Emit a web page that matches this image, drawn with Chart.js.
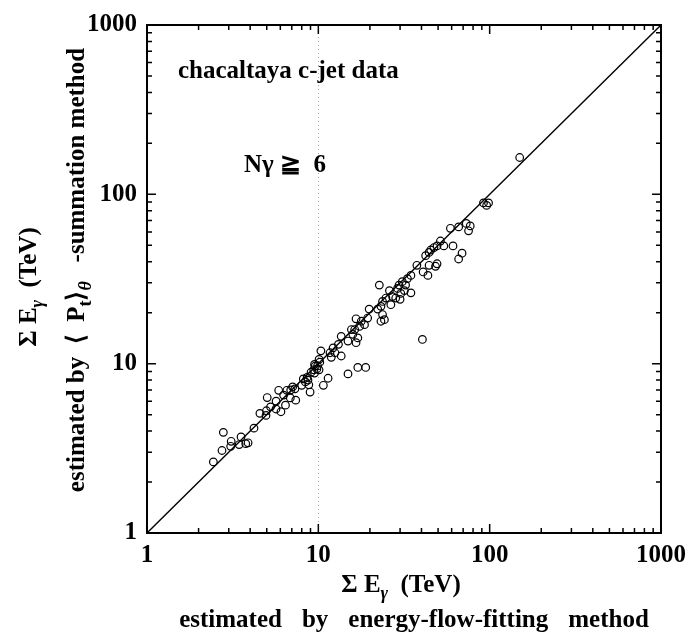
<!DOCTYPE html>
<html>
<head>
<meta charset="utf-8">
<script src="https://cdn.jsdelivr.net/npm/chart.js@4.4.0/dist/chart.umd.min.js"></script>
<style>
  html, body { margin: 0; padding: 0; background: #fff; }
  canvas { display: block; }
</style>
</head>
<body>
<canvas id="jetChart" width="694" height="634"></canvas>
<script>
// sum of gamma energies (TeV): energy-flow fit vs <pt> summation
var flowFitE = [
    2.44, 2.74, 2.79, 3.10, 3.08, 3.45, 3.54, 3.77, 3.89, 4.21, 4.56, 4.95, 4.98, 5.03,
    5.26, 5.67, 5.87, 6.27, 6.43, 6.05, 6.55, 6.86, 6.90, 7.08, 7.30, 7.38, 8.00, 8.17,
    8.40, 8.60, 8.80, 8.95, 9.07, 9.40, 9.50, 9.60, 9.80, 9.90, 10.1, 10.2, 10.35, 10.7,
    11.4, 14.9, 5.66, 8.70, 9.50, 10.1,
    11.7, 12.5, 11.9, 12.2, 13.1, 13.6, 13.6, 14.9, 16.6, 17.0, 15.9, 15.6, 16.3, 17.4,
    18.6, 16.6, 17.8, 19.4, 23.2, 24.3, 23.7, 19.8, 22.2, 23.2, 26.5, 23.7, 24.8, 28.3,
    27.1, 31.8, 30.3, 29.0, 26.0, 22.7, 17.0, 18.9,
    30.0, 34.7, 29.6, 32.3, 30.9, 33.1, 34.7, 43.6, 40.9, 37.6, 48.3, 49.3, 44.3, 65.9,
    69.0, 42.3, 44.3, 45.3, 47.3, 61.1, 54.0, 49.3, 51.6, 77.0, 75.3, 65.9, 59.0,
    73.0, 96.0, 98.5, 92.0, 149.7, 40.5
];
var ptSumE = [
    2.63, 3.07, 3.93, 3.48, 3.25, 3.33, 3.69, 3.37, 3.41, 4.16, 5.09, 4.95, 5.27, 6.31,
    5.56, 6.00, 6.96, 6.52, 5.69, 5.20, 6.96, 6.28, 7.00, 7.29, 7.10, 6.09, 7.45, 8.13,
    7.80, 8.30, 7.50, 6.80, 8.90, 9.20, 9.90, 9.70, 9.30, 9.70, 10.6, 10.2, 11.9, 7.45,
    8.2, 8.7, 5.40, 8.00, 8.80, 9.20,
    11.6, 11.6, 10.9, 12.4, 13.0, 11.1, 14.5, 13.6, 13.3, 14.2, 14.9, 15.9, 15.9, 16.6,
    17.0, 18.4, 17.8, 18.6, 17.8, 18.2, 19.5, 21.0, 21.0, 21.8, 22.3, 23.3, 24.4, 24.4,
    24.9, 27.0, 26.0, 27.8, 27.0, 29.1, 9.5, 9.5,
    24.0, 26.2, 29.1, 29.1, 30.5, 31.8, 33.2, 33.2, 34.8, 38.1, 37.6, 38.9, 38.1, 41.5,
    44.9, 43.4, 45.4, 46.9, 48.5, 49.6, 49.6, 49.6, 53.0, 65.1, 60.9, 64.2, 63.0,
    67.3, 86.0, 89.0, 89.0, 165, 13.9
];
// y = x reference line
var diagX = [1, 1000];
var diagY = [1, 1000];
var decadeTicks = [1, 10, 100, 1000];

var serif = '"Liberation Serif", "Times New Roman", serif';
var textSize = 25;

var points = flowFitE.map(function (x, i) { return { x: x, y: ptSumE[i] }; });
var diag = diagX.map(function (x, i) { return { x: x, y: diagY[i] }; });

// draws a line of text made of normal and subscript pieces, centred on cx
function richText(ctx, parts, cx, cy, size) {
    var fonts = parts.map(function (p) {
        var sz = p.sub ? Math.round(size * 0.72) : size;
        return (p.italic ? 'italic ' : '') + 'bold ' + sz + 'px ' + serif;
    });
    var total = 0;
    var widths = parts.map(function (p, i) {
        ctx.font = fonts[i];
        var w = ctx.measureText(p.t).width;
        total += w;
        return w;
    });
    var x = cx - total / 2;
    ctx.textAlign = 'left';
    ctx.textBaseline = 'alphabetic';
    parts.forEach(function (p, i) {
        ctx.font = fonts[i];
        ctx.fillText(p.t, x, cy + (p.sub ? size * 0.28 : 0));
        x += widths[i];
    });
}

// words set with a wide fixed gap between them
function spacedText(ctx, words, gap, cx, cy) {
    var widths = words.map(function (w) { return ctx.measureText(w).width; });
    var total = widths.reduce(function (s, w) { return s + w; }, 0) + gap * (words.length - 1);
    var x = cx - total / 2;
    ctx.textAlign = 'left';
    words.forEach(function (w, i) {
        ctx.fillText(w, x, cy);
        x += widths[i] + gap;
    });
}

var framePlugin = {
    id: 'frame',
    beforeDatasetsDraw: function (chart) {
        var ctx = chart.ctx;
        var a = chart.chartArea;
        var xs = chart.scales.x;
        // faint dotted guide at 10 TeV
        ctx.save();
        ctx.strokeStyle = '#aaa';
        ctx.lineWidth = 1;
        ctx.setLineDash([1, 3]);
        var px = Math.round(xs.getPixelForValue(10)) + 0.5;
        ctx.beginPath();
        ctx.moveTo(px, a.top);
        ctx.lineTo(px, a.bottom);
        ctx.stroke();
        ctx.restore();
    },
    afterDraw: function (chart) {
        var ctx = chart.ctx;
        var a = chart.chartArea;
        var xs = chart.scales.x;
        var ys = chart.scales.y;
        ctx.save();
        ctx.strokeStyle = '#000';
        ctx.lineWidth = 2;
        ctx.strokeRect(a.left, a.top, a.right - a.left, a.bottom - a.top);

        // inward ticks on all four sides
        ctx.lineWidth = 1.5;
        ctx.beginPath();
        [1, 10, 100].forEach(function (d) {
            for (var m = 1; m <= 9; m++) {
                var v = d * m;
                var len = m === 1 ? 9 : 5;
                var x = xs.getPixelForValue(v);
                var y = ys.getPixelForValue(v);
                ctx.moveTo(x, a.bottom); ctx.lineTo(x, a.bottom - len);
                ctx.moveTo(x, a.top); ctx.lineTo(x, a.top + len);
                ctx.moveTo(a.left, y); ctx.lineTo(a.left + len, y);
                ctx.moveTo(a.right, y); ctx.lineTo(a.right - len, y);
            }
        });
        ctx.stroke();

        ctx.fillStyle = '#000';
        ctx.textAlign = 'left';
        ctx.textBaseline = 'alphabetic';
        ctx.font = 'bold ' + textSize + 'px ' + serif;
        ctx.fillText('chacaltaya c-jet data', 178, 78);
        ctx.fillText('N\u03b3 \u2267  6', 244, 172);

        // x axis title
        richText(ctx, [
            { t: '\u03a3 E' }, { t: '\u03b3', sub: true, italic: true }, { t: '  (TeV)' }
        ], 401, 592, textSize);
        ctx.font = 'bold ' + textSize + 'px ' + serif;
        spacedText(ctx, ['estimated', 'by', 'energy-flow-fitting', 'method'], 20, 414, 627);

        // y axis title, rotated
        ctx.save();
        ctx.translate(36, 287);
        ctx.rotate(-Math.PI / 2);
        richText(ctx, [
            { t: '\u03a3 E' }, { t: '\u03b3', sub: true, italic: true }, { t: '  (TeV)' }
        ], 0, 0, textSize);
        ctx.restore();
        ctx.save();
        ctx.translate(84, 270);
        ctx.rotate(-Math.PI / 2);
        richText(ctx, [
            { t: 'estimated by  \u27e8  P' }, { t: 't', sub: true }, { t: '\u27e9' },
            { t: '\u03b8', sub: true, italic: true }, { t: '   -summation method' }
        ], 0, 0, textSize);
        ctx.restore();
        ctx.restore();
    }
};

var tickFont = { family: serif, size: 25, weight: 'bold' };

var ctx = document.getElementById('jetChart').getContext('2d');
var jetChart = new Chart(ctx, {
    data: {
        datasets: [{
            type: 'line',
            data: diag,
            borderColor: '#000',
            borderWidth: 1.4,
            pointRadius: 0,
            fill: false
        }, {
            type: 'scatter',
            data: points,
            pointStyle: 'circle',
            pointRadius: 3.8,
            borderWidth: 1.2,
            borderColor: '#000',
            backgroundColor: 'rgba(0,0,0,0)'
        }]
    },
    options: {
        responsive: false,
        animation: false,
        layout: { padding: { top: 16, right: 28, left: 0, bottom: 0 } },
        plugins: { legend: { display: false }, tooltip: { enabled: false } },
        scales: {
            x: {
                type: 'logarithmic',
                min: 1, max: 1000,
                grid: { display: false, drawTicks: false },
                border: { display: false },
                afterBuildTicks: function (s) { s.ticks = decadeTicks.map(function (v) { return { value: v }; }); },
                afterFit: function (s) { s.height = 101; },
                ticks: { font: tickFont, color: '#000', padding: 8, maxRotation: 0, autoSkip: false,
                    callback: function (v) { return String(v); } }
            },
            y: {
                type: 'logarithmic',
                min: 1, max: 1000,
                grid: { display: false, drawTicks: false },
                border: { display: false },
                afterBuildTicks: function (s) { s.ticks = decadeTicks.map(function (v) { return { value: v }; }); },
                afterFit: function (s) { s.width = 147; },
                ticks: { font: tickFont, color: '#000', padding: 10, autoSkip: false,
                    callback: function (v) { return String(v); } }
            }
        }
    },
    plugins: [framePlugin]
});
</script>
</body>
</html>
